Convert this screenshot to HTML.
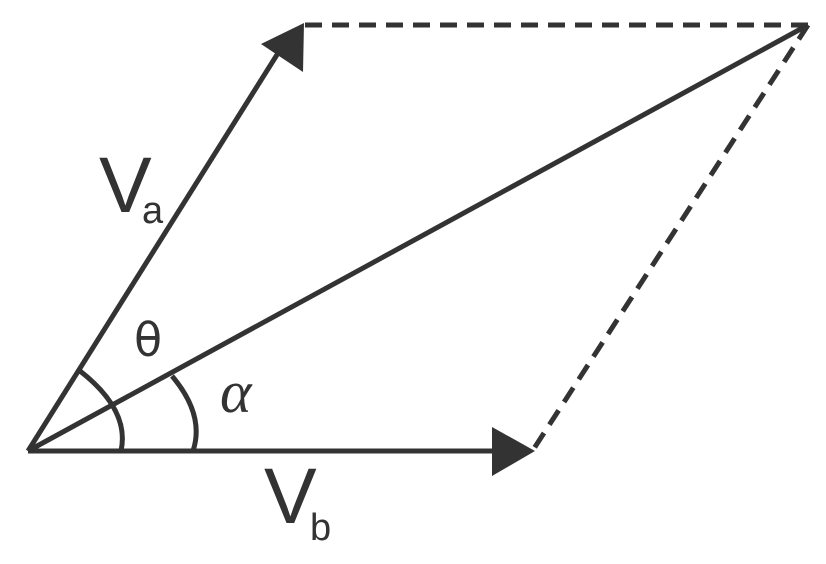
<!DOCTYPE html>
<html><head><style>body{margin:0;background:#fff}svg{display:block}</style></head><body>
<svg width="826" height="564" viewBox="0 0 826 564" xmlns="http://www.w3.org/2000/svg">
<g stroke="#333" stroke-width="5" fill="none">
<line x1="28" y1="451" x2="285" y2="42"/>
<line x1="28" y1="451" x2="500" y2="451"/>
<line x1="28" y1="451" x2="808" y2="25"/>
<line x1="305" y1="25" x2="808" y2="25" stroke-dasharray="17,10"/>
<line x1="808" y1="25" x2="533" y2="450" stroke-dasharray="17,10"/>
<path d="M80,371 Q130,410 121,451"/>
<path d="M172,376 Q205,415 193,451"/>
</g>
<polygon points="261,44 304,23 303,72" fill="#333"/>
<polygon points="492,427 535,451 492,476" fill="#333"/>
<g fill="#333" font-family="Liberation Sans, sans-serif">
<text x="99" y="212" font-size="79">V</text>
<text x="142" y="223" font-size="38">a</text>
<text x="264" y="523" font-size="79">V</text>
<text x="310" y="540" font-size="38">b</text>
<text x="134" y="356" font-size="46" font-family="DejaVu Sans, sans-serif">θ</text>
<text x="220" y="412" font-size="60" font-style="italic" font-family="Liberation Serif, serif">α</text>
</g>
</svg>
</body></html>
